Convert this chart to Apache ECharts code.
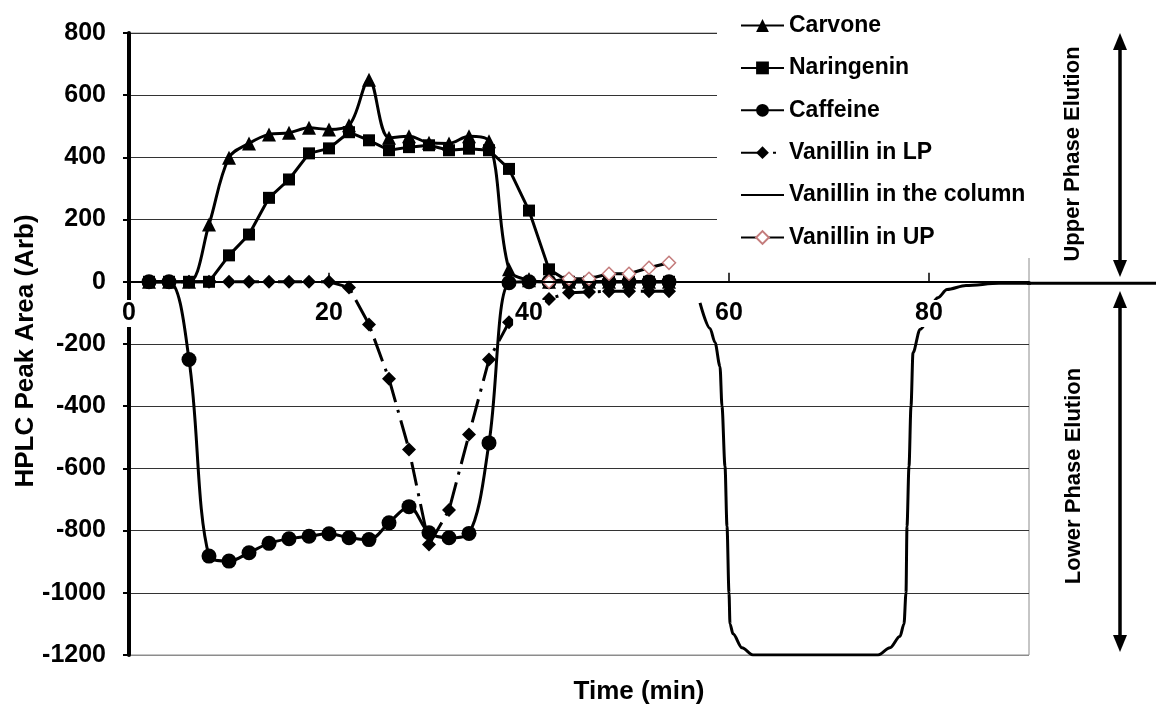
<!DOCTYPE html>
<html><head><meta charset="utf-8">
<script src="https://cdn.jsdelivr.net/npm/echarts@6/dist/echarts.min.js"></script>
<style>html,body{margin:0;padding:0;background:#fff}#c{width:1156px;height:704px}</style>
</head><body><div id="c"></div>
<script>
const FONT = '"Liberation Sans", Arial, sans-serif';

// ---- data ----
const xTickValues = [0, 20, 40, 60, 80];
const sampleTimes = [2,4,6,8,10,12,14,16,18,20,22,24,26,28,30,32,34,36,38,40,42,44,46,48,50,52,54];
const carvone    = [0,0,0,184,399,445,474,479,495,490,503,650,463,468,447,445,468,452,40,5,0,0,0,0,0,0,0];
const naringenin = [0,0,0,0,85,152,270,329,413,429,481,455,423,433,439,423,428,423,363,229,40,0,0,0,0,0,0];
const caffeine   = [0,0,-250,-882,-898,-871,-841,-826,-818,-810,-823,-829,-775,-723,-807,-823,-809,-518,-3,0,0,0,0,0,0,0,0];
const vanillinLP = [0,0,0,0,0,0,0,0,0,0,-18,-137,-312,-539,-845,-734,-491,-250,-130,-80,-55,-35,-33,-30,-30,-30,-30];
const upTimes    = [42,44,46,48,50,52,54];
const vanillinUP = [0,10,10,26,26,45,61];
const columnTimes  = [57.1,58.1,58.6,59.1,59.3,59.6,59.8,60.0,60.1,60.4,61.3,62.4,74.9,76.1,77.1,77.5,77.7,77.8,78.0,78.2,78.4,79.1,80.9,81.8,83.7,87,92];
const columnValues = [-68,-150,-195,-272,-400,-593,-786,-1000,-1100,-1132,-1177,-1200,-1200,-1177,-1140,-1100,-1000,-786,-593,-400,-228,-153,-51,-25,-12,-5,-5];
// the column trace runs on past the right edge of the plot
const columnTailTimes  = [89, 102.7];
const columnTailValues = [-5, -5];
const seriesNames = ['Carvone','Naringenin','Caffeine','Vanillin in LP','Vanillin in the column','Vanillin in UP'];

const pairs = (xs, ys) => xs.map((x, i) => [x, ys[i]]);
const black = '#000';
const baseLine = { color: black, width: 3 };

const splitColors = ['#8c8c8c','#333','#333','#333','#333','#333','#333','#333','#333','#333','#333'];

const chart = echarts.init(document.getElementById('c'), null, { renderer: 'canvas' });
chart.setOption({
  animation: false,
  backgroundColor: '#fff',
  grid: [
    { left: 129, right: 127, top: 33, bottom: 49, show: true, borderColor: '#8c8c8c', borderWidth: 1 },
    { left: 1029, right: 0, top: 33, bottom: 49, show: false }
  ],
  legend: {
    orient: 'vertical', left: 740, top: 14, padding: 0,
    itemWidth: 43, itemHeight: 16, itemGap: 19.4,
    textStyle: { fontFamily: FONT, fontSize: 23, fontWeight: 'bold', color: black, lineHeight: 23 },
    data: [seriesNames[0], seriesNames[1], seriesNames[2], seriesNames[3],
           { name: seriesNames[4], itemStyle: { opacity: 0 } }, seriesNames[5]]
  },
  xAxis: [{
    type: 'value', min: 0, max: 90, interval: 20, z: 10,
    axisLine: { onZero: true, lineStyle: { color: black, width: 2 } },
    axisTick: { show: true, inside: true, length: 9, customValues: xTickValues, lineStyle: { color: black, width: 1.5 } },
    axisLabel: { customValues: xTickValues, fontFamily: FONT, fontSize: 25, fontWeight: 'bold', color: black,
                 margin: -355, backgroundColor: '#fff', padding: [1, 2] },
    splitLine: { show: false }
  }, {
    type: 'value', gridIndex: 1, min: 90, max: 102.7, show: false
  }],
  yAxis: [{
    type: 'value', min: -1200, max: 800, interval: 200,
    axisLine: { show: true, lineStyle: { color: black, width: 4 } },
    axisTick: { show: true, length: 6, lineStyle: { color: black, width: 2 } },
    axisLabel: { fontFamily: FONT, fontSize: 25, fontWeight: 'bold', color: black, margin: 23,
                 formatter: v => String(v) },
    splitLine: { show: true, lineStyle: { color: splitColors, width: 1 } }
  }, {
    type: 'value', gridIndex: 1, min: -1200, max: 800, show: false
  }],
  series: [
    { name: seriesNames[0], type: 'line', data: pairs(sampleTimes, carvone), smooth: 0.35,
      symbol: 'triangle', symbolSize: 14, lineStyle: baseLine, itemStyle: { color: black } },
    { name: seriesNames[1], type: 'line', data: pairs(sampleTimes, naringenin),
      symbol: 'rect', symbolSize: 12, lineStyle: baseLine, itemStyle: { color: black } },
    { name: seriesNames[2], type: 'line', data: pairs(sampleTimes, caffeine), smooth: 0.35,
      symbol: 'circle', symbolSize: 15, lineStyle: baseLine, itemStyle: { color: black } },
    { name: seriesNames[3], type: 'line', data: pairs(sampleTimes, vanillinLP),
      symbol: 'diamond', symbolSize: 14, lineStyle: { color: black, width: 3, type: [24, 8, 3, 8] }, itemStyle: { color: black } },
    { name: seriesNames[4], type: 'line', data: pairs(columnTimes, columnValues), smooth: 0.3, smoothMonotone: 'x',
      symbol: 'none', lineStyle: baseLine, itemStyle: { color: black } },
    { name: seriesNames[5], type: 'line', data: pairs(upTimes, vanillinUP),
      symbol: 'diamond', symbolSize: 13, lineStyle: { color: black, width: 3 },
      itemStyle: { color: '#fff', borderColor: '#c47c7c', borderWidth: 1.5 } },
    { name: seriesNames[4], type: 'line', xAxisIndex: 1, yAxisIndex: 1, data: pairs(columnTailTimes, columnTailValues),
      symbol: 'none', clip: false, lineStyle: baseLine, itemStyle: { color: black } }
  ],
  graphic: [
    { type: 'rect', z: 1, shape: { x: 717, y: 0, width: 330, height: 258 }, style: { fill: '#fff' } },
    { type: 'text', z: 10, x: 26, y: 351, rotation: Math.PI / 2,
      style: { text: 'HPLC Peak Area (Arb)', fontFamily: FONT, fontSize: 26, fontWeight: 'bold', fill: black, align: 'center', verticalAlign: 'middle' } },
    { type: 'text', z: 10, x: 639, y: 692,
      style: { text: 'Time (min)', fontFamily: FONT, fontSize: 26, fontWeight: 'bold', fill: black, align: 'center', verticalAlign: 'middle' } },
    { type: 'text', z: 10, x: 1073, y: 154, rotation: Math.PI / 2,
      style: { text: 'Upper Phase Elution', fontFamily: FONT, fontSize: 22, fontWeight: 'bold', fill: black, align: 'center', verticalAlign: 'middle' } },
    { type: 'text', z: 10, x: 1074, y: 476, rotation: Math.PI / 2,
      style: { text: 'Lower Phase Elution', fontFamily: FONT, fontSize: 22, fontWeight: 'bold', fill: black, align: 'center', verticalAlign: 'middle' } },
    { type: 'line', z: 10, shape: { x1: 1120, y1: 45, x2: 1120, y2: 265 }, style: { stroke: black, lineWidth: 3.5 } },
    { type: 'polygon', z: 10, shape: { points: [[1120, 33], [1113, 50], [1127, 50]] }, style: { fill: black } },
    { type: 'polygon', z: 10, shape: { points: [[1120, 277], [1113, 260], [1127, 260]] }, style: { fill: black } },
    { type: 'line', z: 10, shape: { x1: 1120, y1: 303, x2: 1120, y2: 640 }, style: { stroke: black, lineWidth: 3.5 } },
    { type: 'polygon', z: 10, shape: { points: [[1120, 291], [1113, 308], [1127, 308]] }, style: { fill: black } },
    { type: 'polygon', z: 10, shape: { points: [[1120, 652], [1113, 635], [1127, 635]] }, style: { fill: black } }
  ]
});
</script>
</body></html>
